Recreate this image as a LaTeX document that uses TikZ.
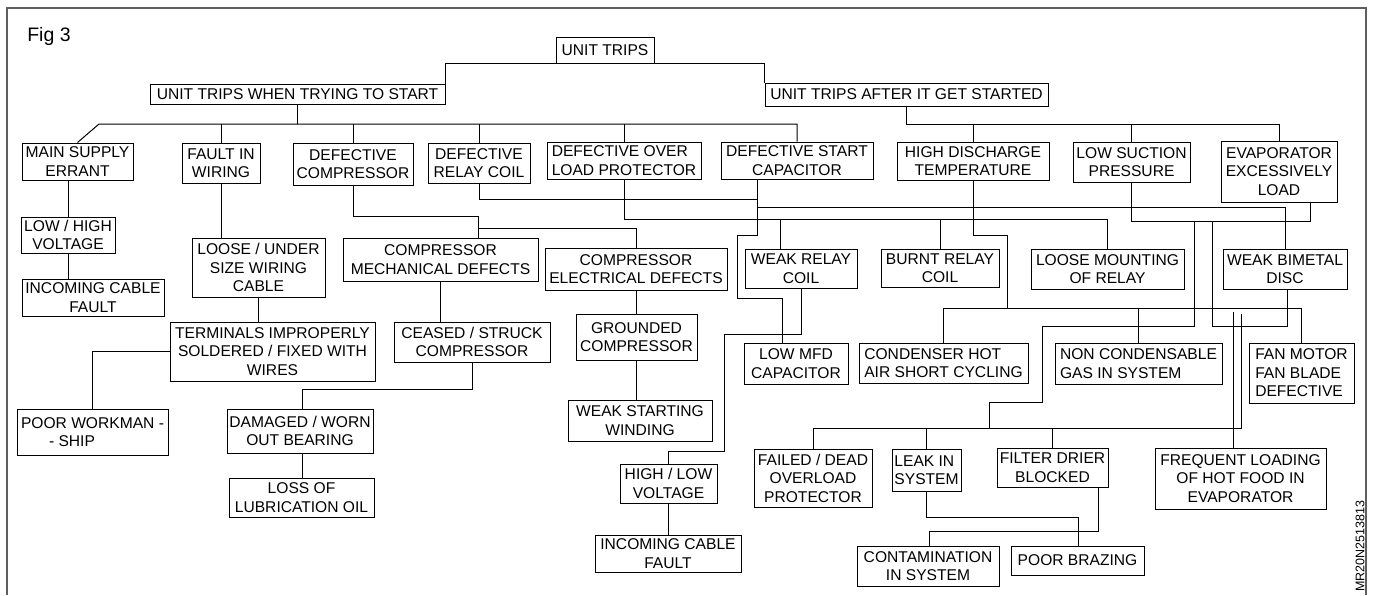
\documentclass[tikz,border=0pt]{standalone}
\usepackage{fontspec}
\setmainfont{Liberation Sans}
\begin{document}
\begin{tikzpicture}[x=1pt,y=-1pt,
  box/.style={draw, line width=1pt, inner sep=0pt, align=center, font=\fontsize{15.6}{18.5}\selectfont},
  lbox/.style={box, align=left},
  conn/.style={line width=1pt},
  frame/.style={line width=2pt, draw={rgb,255:red,95;green,95;blue,95}}]
\useasboundingbox (0,0) rectangle (1375,595);
\draw[frame] (7,595) -- (7,8) -- (1366,8) -- (1366,595);
\node[font=\fontsize{19.5}{22}\selectfont, inner sep=0pt] (fig) at (49,36) {Fig 3};
\node[rotate=90, font=\fontsize{12.5}{14}\selectfont, inner sep=0pt] (code) at (1360,546) {MR20N2513813};
% level 0/1
\node[box, minimum width=98, minimum height=26] (ut) at (605,50) {UNIT TRIPS};
\node[box, minimum width=295, minimum height=20] (ws) at (297.5,94.5) {UNIT TRIPS WHEN TRYING TO START};
\node[box, minimum width=283, minimum height=23] (as) at (906.5,94.5) {UNIT TRIPS AFTER IT GET STARTED};
% level 2
\node[box, minimum width=111, minimum height=37] (ms) at (77.5,161.5) {MAIN SUPPLY\\ERRANT};
\node[box, minimum width=78, minimum height=40] (fw) at (221,163) {FAULT IN\\WIRING};
\node[box, minimum width=120, minimum height=42] (dc) at (353,164) {DEFECTIVE\\COMPRESSOR};
\node[box, minimum width=102, minimum height=40] (dr) at (479,163) {DEFECTIVE\\RELAY COIL};
\node[lbox, minimum width=154, minimum height=37] (dol) at (624,160.5) {DEFECTIVE OVER\\LOAD PROTECTOR};
\node[box, minimum width=152, minimum height=37] (dsc) at (797,160.5) {DEFECTIVE START\\CAPACITOR};
\node[box, minimum width=152, minimum height=38] (hd) at (973,161) {HIGH DISCHARGE\\TEMPERATURE};
\node[box, minimum width=117, minimum height=40] (ls) at (1131.5,162) {LOW SUCTION\\PRESSURE};
\node[box, minimum width=116, minimum height=61] (ev) at (1279,171.5) {EVAPORATOR\\EXCESSIVELY\\LOAD};
% left branch
\node[box, minimum width=94, minimum height=36] (lh) at (68,235) {LOW / HIGH\\VOLTAGE};
\node[box, minimum width=142, minimum height=37] (icfa) at (93,297.5) {INCOMING CABLE\\FAULT};
\node[box, minimum width=133, minimum height=59] (lu) at (258.5,267.5) {LOOSE / UNDER\\SIZE WIRING\\CABLE};
\node[box, minimum width=205, minimum height=59] (tm) at (272.5,351.5) {TERMINALS IMPROPERLY\\SOLDERED / FIXED WITH\\WIRES};
\node[lbox, minimum width=151, minimum height=46] (pw) at (92.5,432) {POOR WORKMAN -\\\hspace*{28pt}- SHIP};
\node[box, minimum width=195, minimum height=43] (cm) at (440.5,259.5) {COMPRESSOR\\MECHANICAL DEFECTS};
\node[box, minimum width=182, minimum height=42] (ce) at (636,269) {COMPRESSOR\\ELECTRICAL DEFECTS};
\node[box, minimum width=156, minimum height=40] (cs) at (472,342) {CEASED / STRUCK\\COMPRESSOR};
\node[box, minimum width=146, minimum height=44] (db) at (300,431) {DAMAGED / WORN\\OUT BEARING};
\node[box, minimum width=145, minimum height=39] (lo) at (301.5,497.5) {LOSS OF\\LUBRICATION OIL};
\node[box, minimum width=121, minimum height=46] (gc) at (636.5,337) {GROUNDED\\COMPRESSOR};
\node[box, minimum width=144, minimum height=41] (wsw) at (640,420.5) {WEAK STARTING\\WINDING};
\node[box, minimum width=97, minimum height=39] (hl) at (668.5,483.5) {HIGH / LOW\\VOLTAGE};
\node[box, minimum width=146, minimum height=37] (icfb) at (668,553.5) {INCOMING CABLE\\FAULT};
% right branch
\node[box, minimum width=112, minimum height=39] (wr) at (801,268.5) {WEAK RELAY\\COIL};
\node[box, minimum width=118, minimum height=38] (br) at (940,268) {BURNT RELAY\\COIL};
\node[box, minimum width=153, minimum height=40] (lm) at (1107.5,269) {LOOSE MOUNTING\\OF RELAY};
\node[box, minimum width=124, minimum height=40] (wb) at (1285,269) {WEAK BIMETAL\\DISC};
\node[box, minimum width=104, minimum height=41] (lmfd) at (796,363.5) {LOW MFD\\CAPACITOR};
\node[lbox, minimum width=169, minimum height=40] (ch) at (943.5,363) {CONDENSER HOT\\AIR SHORT CYCLING};
\node[lbox, minimum width=167, minimum height=41] (nc) at (1138.5,363.5) {NON CONDENSABLE\\GAS IN SYSTEM};
\node[lbox, minimum width=105, minimum height=60] (fm) at (1301.5,373) {FAN MOTOR\\FAN BLADE\\DEFECTIVE};
\node[box, minimum width=118, minimum height=58] (fd) at (813,478) {FAILED / DEAD\\OVERLOAD\\PROTECTOR};
\node[lbox, minimum width=69, minimum height=42] (li) at (926.5,470) {LEAK IN\\SYSTEM};
\node[box, minimum width=111, minimum height=39] (fdb) at (1052.5,467.5) {FILTER DRIER\\BLOCKED};
\node[box, minimum width=171, minimum height=61] (fl) at (1240.5,478.5) {FREQUENT LOADING\\OF HOT FOOD IN\\EVAPORATOR};
\node[box, minimum width=142, minimum height=40] (con) at (928,566) {CONTAMINATION\\IN SYSTEM};
\node[box, minimum width=133, minimum height=29] (pb) at (1077.5,560.5) {POOR BRAZING};
% connectors: top
\draw[conn] (ws.north east) |- (ut.south) -| (as.north west);
\coordinate (L1) at (99,124);
\coordinate (R1) at (797,124);
\draw[conn] (ws.south) -- (ws.south |- L1);
\draw[conn] (ms.north) -- (L1) -- (R1) -- (dsc.north);
\draw[conn] (fw.north) -- (fw.north |- L1);
\draw[conn] (dc.north) -- (dc.north |- L1);
\draw[conn] (dr.north) -- (dr.north |- L1);
\draw[conn] (dol.north) -- (dol.north |- L1);
\coordinate (L2) at (907,124);
\draw[conn] (as.south) -- (as.south |- L2) -| (ev.north);
\draw[conn] (hd.north) -- (hd.north |- L2);
\draw[conn] (ls.north) -- (ls.north |- L2);
% left branch connectors
\draw[conn] (lh.north) -- (lh.north |- ms.south);
\draw[conn] (lh.south) -- (lh.south |- icfa.north);
\draw[conn] (fw.south) -- (fw.south |- lu.north);
\draw[conn] (lu.south) -- (lu.south |- tm.north);
\draw[conn] (tm.west) -| (pw.north);
\coordinate (c1) at (478,216);
\coordinate (c2) at (478,228);
\draw[conn] (dc.south) |- (c1) -- (c1 |- cm.north);
\draw[conn] (c2) -| (ce.north);
\draw[conn] (cm.south) -- (cm.south |- cs.north);
\coordinate (c3) at (302,389);
\draw[conn] (cs.south) |- (c3) -- (c3 |- db.north);
\draw[conn] (db.south -| c3) -- (lo.north -| c3);
\draw[conn] (ce.south) -- (ce.south |- gc.north);
\draw[conn] (gc.south -| ce.south) -- (wsw.north -| ce.south);
\coordinate (w1) at (724,334);
\coordinate (w2) at (724,451);
\draw[conn] (wr.south) |- (w1) -- (w2) -| (hl.north);
\draw[conn] (hl.south) -- (hl.south |- icfb.north);
% middle network
\coordinate (m1) at (757,199);
\draw[conn] (dr.south) |- (m1);
\coordinate (m2) at (757,235);
\coordinate (m3) at (737,298);
\coordinate (m4) at (782,298);
\draw[conn] (dsc.south -| m1) -- (m2) -| (m3) -- (m4) -- (m4 |- lmfd.north);
\coordinate (m5) at (757,207);
\draw[conn] (m5) -| (wb.north);
\coordinate (q0) at (624,219);
\draw[conn] (dol.south) -- (q0) -| (lm.north);
\coordinate (q1) at (780,219);
\draw[conn] (q1) -- (q1 |- wr.north);
\draw[conn] (br.north) -- (br.north |- q1);
\coordinate (h0) at (973,235);
\coordinate (h1) at (1007,308);
\draw[conn] (hd.south) -- (h0) -| (h1);
\draw[conn] (ch.north) -- (ch.north |- h1) -- (fm.north |- h1) -- (fm.north);
\draw[conn] (nc.north) -- (nc.north |- h1);
\coordinate (s1) at (1310,221);
\draw[conn] (ls.south) |- (s1) -- (s1 |- ev.south);
\coordinate (s2) at (1194,221);
\coordinate (s3) at (1042,326);
\coordinate (s4) at (989,402);
\coordinate (s5) at (989,428);
\draw[conn] (s2) |- (s3) |- (s4) -- (s5);
\coordinate (s6) at (1212,221);
\coordinate (s7) at (1287,326);
\draw[conn] (s6) |- (s7) -- (s7 |- wb.south);
% bottom right
\coordinate (b0) at (1241,428);
\coordinate (b1) at (1241,314);
\draw[conn] (fd.north) |- (b0) -- (b1);
\draw[conn] (li.north) -- (li.north |- b0);
\draw[conn] (fdb.north) -- (fdb.north |- b0);
\coordinate (f0) at (1233,312);
\draw[conn] (f0) -- (f0 |- fl.north);
\coordinate (p0) at (1078,517);
\draw[conn] (li.south) |- (p0) -- (p0 |- pb.north);
\coordinate (p1) at (1098,531);
\coordinate (p2) at (929,531);
\draw[conn] (fdb.south -| p1) -- (p1) -- (p2) -- (p2 |- con.north);
\end{tikzpicture}
\end{document}
